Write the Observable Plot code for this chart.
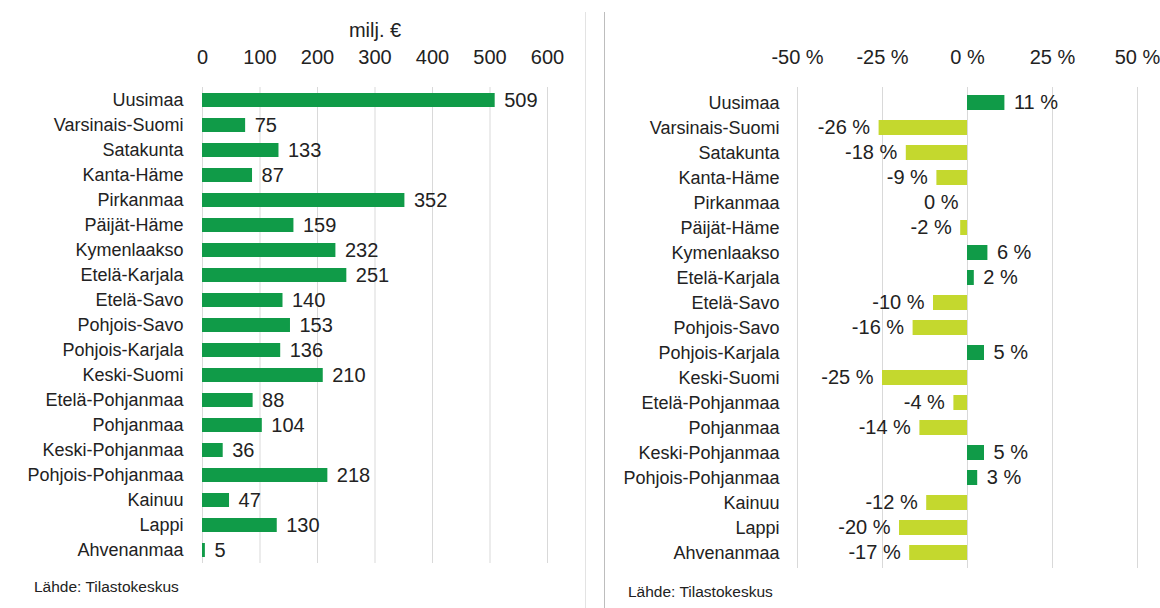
<!DOCTYPE html>
<html><head><meta charset="utf-8">
<script src="https://cdn.jsdelivr.net/npm/d3@7"></script>
<script src="https://cdn.jsdelivr.net/npm/@observablehq/plot@0.6"></script>
<style>
body{margin:0;background:#fff;font-family:"Liberation Sans",Arial,sans-serif;}
#wrap{position:relative;width:1160px;height:608px;overflow:hidden;background:#fff;}
.panel{position:absolute;top:0;}
.src{position:absolute;font-size:15.5px;color:#222;white-space:nowrap;}
.divl{position:absolute;top:12px;bottom:0;width:1px;}
</style></head><body>
<div id="wrap">
 <div id="left" class="panel" style="left:0"></div>
 <div id="right" class="panel" style="left:604px"></div>
 <div class="divl" style="left:585px;background:#e3e3e3"></div>
 <div class="divl" style="left:604px;background:#bdbdbd"></div>
 <div class="src" style="left:34px;top:578px">Lähde: Tilastokeskus</div>
 <div class="src" style="left:628px;top:583px">Lähde: Tilastokeskus</div>
</div>
<script>
const regions = ["Uusimaa","Varsinais-Suomi","Satakunta","Kanta-Häme","Pirkanmaa","Päijät-Häme","Kymenlaakso","Etelä-Karjala","Etelä-Savo","Pohjois-Savo","Pohjois-Karjala","Keski-Suomi","Etelä-Pohjanmaa","Pohjanmaa","Keski-Pohjanmaa","Pohjois-Pohjanmaa","Kainuu","Lappi","Ahvenanmaa"];
const spending = [509,75,133,87,352,159,232,251,140,153,136,210,88,104,36,218,47,130,5];
const change = [11,-26,-18,-9,0,-2,6,2,-10,-16,5,-25,-4,-14,5,3,-12,-20,-17];
const leftTicks = [0,100,200,300,400,500,600];
const rightTicks = [-50,-25,0,25,50];
const leftUnit = "milj. €";

const DARK = "#109b48", LIGHT = "#c4d82e", GRID = "#d9d9d9", INK = "#222";
const FONT = "'Liberation Sans', Arial, sans-serif";

const leftData = regions.map((r,i)=>({region:r, value:spending[i]}));
const rightData = regions.map((r,i)=>({region:r, value:change[i]}));

const left = Plot.plot({
  width:585, height:570,
  marginLeft:202, marginRight:38, marginTop:87, marginBottom:7,
  style:{fontFamily:FONT, fontSize:"18px", color:INK, background:"transparent", overflow:"visible"},
  x:{domain:[0,600]},
  y:{domain:regions, paddingInner:0.44, paddingOuter:0.22},
  marks:[
    Plot.gridX(leftTicks, {stroke:GRID, strokeOpacity:1}),
    Plot.barX(leftData, {x:"value", y:"region", fill:DARK}),
    Plot.text(leftData, {x:"value", y:"region", text:d=>String(d.value), dx:9, textAnchor:"start", fontSize:20, fill:INK}),
    Plot.axisX(leftTicks, {anchor:"top", tickSize:0, tickPadding:24, fontSize:20, label:leftUnit, labelAnchor:"center", labelArrow:"none", labelOffset:65}),
    Plot.axisY({tickSize:0, tickPadding:19, fontSize:18, label:null})
  ]
});
document.getElementById("left").append(left);

const right = Plot.plot({
  width:556, height:573,
  marginLeft:193, marginRight:23, marginTop:87, marginBottom:5,
  style:{fontFamily:FONT, fontSize:"18px", color:INK, background:"transparent", overflow:"visible"},
  x:{domain:[-50,50]},
  y:{domain:regions, paddingInner:0.41, paddingOuter:0.205},
  marks:[
    Plot.gridX(rightTicks, {stroke:GRID, strokeOpacity:1}),
    Plot.barX(rightData, {x:"value", y:"region", fill:d=>d.value>0?DARK:LIGHT}),
    Plot.text(rightData.filter(d=>d.value>0), {x:"value", y:"region", text:d=>`${d.value} %`, dx:9, textAnchor:"start", fontSize:20, fill:INK}),
    Plot.text(rightData.filter(d=>d.value<=0), {x:"value", y:"region", text:d=>`${d.value} %`, dx:-9, textAnchor:"end", fontSize:20, fill:INK}),
    Plot.axisX(rightTicks, {anchor:"top", tickSize:0, tickPadding:24, fontSize:20, tickFormat:d=>`${d} %`, label:null}),
    Plot.axisY({tickSize:0, tickPadding:18, fontSize:18, label:null})
  ]
});
document.getElementById("right").append(right);
</script>
</body></html>
